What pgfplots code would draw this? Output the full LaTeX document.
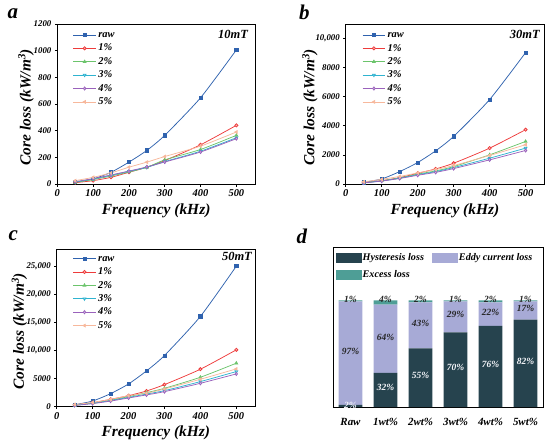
\documentclass[border=0pt]{standalone}
\usepackage{fontspec}
\setmainfont{Liberation Serif}
\usepackage{pgfplots}
\pgfplotsset{compat=1.18}
\usepackage{pgfplotstable}

\definecolor{craw}{HTML}{2F62AE}
\definecolor{cone}{HTML}{EE3B3B}
\definecolor{ctwo}{HTML}{6CC46C}
\definecolor{cthree}{HTML}{2FB3D0}
\definecolor{cfour}{HTML}{9A62BC}
\definecolor{cfive}{HTML}{F7B89C}
\definecolor{hyst}{HTML}{26434E}
\definecolor{eddy}{HTML}{A7AAD6}
\definecolor{exc}{HTML}{4E9E96}

\pgfplotstableread{
f raw p1 p2 p3 p4 p5
50 13 10 12 15 18 25
100 38 25 33 38 40 50
150 88 50 60 65 68 83
200 164 88 90 95 97 126
250 252 126 125 125 128 164
300 365 176 181 168 165 206
400 647 294 259 246 240 284
500 1006 440 365 347 340 390
}\dataA

\pgfplotstableread{
f raw p1 p2 p3 p4 p5
50 115 92 90 85 80 150
100 346 230 220 210 200 320
150 853 438 420 400 380 520
200 1475 737 680 640 600 760
250 2281 1037 900 850 800 1000
300 3272 1429 1198 1130 1060 1267
400 5806 2465 2005 1774 1660 1960
500 9032 3733 2926 2465 2304 2700
}\dataB

\pgfplotstableread{
f raw p1 p2 p3 p4 p5
50 357 300 280 260 220 380
100 1012 714 650 600 550 750
150 2321 1310 1150 1100 1000 1300
200 4048 1964 1800 1650 1550 1964
250 6369 2798 2500 2250 2100 2400
300 9107 3929 3274 2857 2679 3155
400 16070 6667 5238 4464 4167 4881
500 25000 10119 7738 6250 5833 6726
}\dataC

\pgfplotstableread{
i h e x
0 2 97 1
1 32 64 4
2 55 43 2
3 70 29 1
4 76 22 2
5 82 17 1
}\dataD

\pgfplotsset{
  lossaxis/.style={
    scale only axis, anchor=north west,
    xmin=0, xmax=552, xtick={0,100,...,500}, ymin=0,
    axis line style={line width=0.8pt},
    tick align=outside, tick pos=left,
    major tick length=2.5bp,
    every tick/.style={line width=0.7pt,black},
    scaled y ticks=false,
    /pgf/number format/assume math mode=true,
    /pgf/number format/1000 sep={,},
    /pgf/number format/min exponent for 1000 sep=4,
    xticklabel style={font=\fontsize{10.5}{12}\selectfont\bfseries\itshape},
    yticklabel style={font=\fontsize{8.8}{10}\selectfont\bfseries\itshape},
    xlabel={Frequency (kHz)},
    ylabel={Core loss (kW/m\textsuperscript{3})},
    label style={font=\fontsize{15.5}{17}\selectfont\bfseries\itshape},
    xlabel style={at={(axis description cs:0.5,-0.165)}, anchor=center},
    legend cell align=left,
    legend style={draw=none, fill=none, inner sep=0pt,
      font=\fontsize{10.5}{12}\selectfont\bfseries\itshape,
      nodes={inner xsep=2bp, inner ysep=2bp, text height=7.4bp, text depth=2bp}},
    legend image code/.code={\draw[mark repeat=2,mark phase=2,##1] plot coordinates {(0cm,0cm) (0.4cm,0cm) (0.8cm,0cm)};},
    every axis plot/.append style={line width=0.75pt, mark size=1.6pt, smooth, tension=0.4},
  },
  sraw/.style={craw, mark=square*, mark options={fill=craw}},
  sone/.style={cone, mark=*, mark options={fill=cone!35!white}},
  stwo/.style={ctwo, mark=triangle*, mark options={fill=ctwo}},
  sthree/.style={cthree, mark=triangle*, mark options={rotate=180, fill=cthree!35!white}},
  sfour/.style={cfour, mark=diamond*, mark options={fill=cfour!35!white}},
  sfive/.style={cfive, mark=triangle*, mark options={rotate=90, fill=cfive}},
}

\newcommand{\plotall}[1]{%
  \addplot[sraw] table[x=f,y=raw]{#1};
  \addplot[sone] table[x=f,y=p1]{#1};
  \addplot[stwo] table[x=f,y=p2]{#1};
  \addplot[sthree] table[x=f,y=p3]{#1};
  \addplot[sfour] table[x=f,y=p4]{#1};
  \addplot[sfive] table[x=f,y=p5]{#1};
  \legend{raw,1\%,2\%,3\%,4\%,5\%}%
}

\begin{document}
\begin{tikzpicture}
\path[use as bounding box] (0,0) rectangle (550bp,-446bp);

% panel a
\begin{axis}[lossaxis, at={(57.3bp,-24bp)}, width=197.7bp, height=160bp,
  ymax=1200, ytick={0,200,...,1200},
  ylabel style={at={(axis description cs:-0.158,0.48)}, anchor=center},
  legend style={at={(0.078,0.975)}, anchor=north west}]
\plotall{\dataA}
\node[anchor=north east, inner sep=0pt, font=\fontsize{12.5}{14}\selectfont\bfseries\itshape] at (rel axis cs:0.965,0.962) {10mT};
\end{axis}

% panel b
\begin{axis}[lossaxis, at={(345.7bp,-24bp)}, width=198.6bp, height=160bp,
  ymax=11000, ytick={0,2000,...,10000},
  ylabel style={at={(axis description cs:-0.18,0.48)}, anchor=center},
  legend style={at={(0.082,0.975)}, anchor=north west}]
\plotall{\dataB}
\node[anchor=north east, inner sep=0pt, font=\fontsize{12.5}{14}\selectfont\bfseries\itshape] at (rel axis cs:0.978,0.962) {30mT};
\end{axis}

% panel c
\begin{axis}[lossaxis, at={(56.7bp,-249.3bp)}, width=198.3bp, height=157.4bp,
  ymax=28000, ytick={0,5000,...,25000},
  ylabel style={at={(axis description cs:-0.188,0.48)}, anchor=center},
  legend style={at={(0.08,0.985)}, anchor=north west}]
\plotall{\dataC}
\node[anchor=north east, inner sep=0pt, font=\fontsize{12.5}{14}\selectfont\bfseries\itshape] at (rel axis cs:0.985,0.983) {50mT};
\end{axis}

% panel d
\begin{axis}[scale only axis, anchor=north west, at={(333bp,-247bp)}, width=210bp, height=160bp,
  ybar stacked, bar width=0.675,
  xmin=-0.5, xmax=5.5, ymin=0, ymax=150,
  axis line style={line width=0.8pt},
  xtick={0,...,5}, xticklabels={Raw,1wt\%,2wt\%,3wt\%,4wt\%,5wt\%},
  ytick=\empty, major tick length=0pt,
  xticklabel style={font=\fontsize{11}{12}\selectfont\bfseries\itshape, yshift=-8bp},
  legend columns=2, legend cell align=left,
  legend style={draw=none, fill=none, inner sep=0pt, at={(0.012,0.985)}, anchor=north west,
    font=\fontsize{10.2}{12}\selectfont\bfseries\itshape,
    nodes={inner xsep=1bp, inner ysep=3bp, text height=8bp, text depth=3bp},
    /tikz/every even column/.append style={column sep=7bp}},
  legend image code/.code={\draw[#1,draw=none] (0bp,-5bp) rectangle (26bp,5bp);},
  ]
\addplot[fill=hyst, draw=none] table[x=i,y=h]{\dataD};
\addplot[fill=eddy, draw=none] table[x=i,y=e]{\dataD};
\addplot[fill=exc, draw=none] table[x=i,y=x]{\dataD};
\legend{Hysteresis loss,Eddy current loss,Excess loss}
\coordinate (h0) at (axis cs:0,1.8);
\coordinate (h1) at (axis cs:1,18);
\coordinate (h2) at (axis cs:2,29.5);
\coordinate (h3) at (axis cs:3,37.5);
\coordinate (h4) at (axis cs:4,40);
\coordinate (h5) at (axis cs:5,43);
\coordinate (e0) at (axis cs:0,52);
\coordinate (e1) at (axis cs:1,65.5);
\coordinate (e2) at (axis cs:2,78.5);
\coordinate (e3) at (axis cs:3,86.5);
\coordinate (e4) at (axis cs:4,88.5);
\coordinate (e5) at (axis cs:5,92);
\coordinate (x0) at (axis cs:0,101);
\coordinate (x1) at (axis cs:1,101);
\coordinate (x2) at (axis cs:2,101);
\coordinate (x3) at (axis cs:3,101);
\coordinate (x4) at (axis cs:4,101);
\coordinate (x5) at (axis cs:5,101);
\end{axis}
\tikzset{pl/.style={font=\fontsize{9.5}{11}\selectfont\bfseries\itshape, inner sep=0pt}}
\node[pl, white!85!eddy] at (h0) {2\%};
\node[pl, white!90!eddy] at (h1) {32\%};
\node[pl, white!90!eddy] at (h2) {55\%};
\node[pl, white!90!eddy] at (h3) {70\%};
\node[pl, white!90!eddy] at (h4) {76\%};
\node[pl, white!90!eddy] at (h5) {82\%};
\node[pl, black!85] at (e0) {97\%};
\node[pl, black!85] at (e1) {64\%};
\node[pl, black!85] at (e2) {43\%};
\node[pl, black!85] at (e3) {29\%};
\node[pl, black!85] at (e4) {22\%};
\node[pl, black!85] at (e5) {17\%};
\node[pl, black!85] at (x0) {1\%};
\node[pl, black!85] at (x1) {4\%};
\node[pl, black!85] at (x2) {2\%};
\node[pl, black!85] at (x3) {1\%};
\node[pl, black!85] at (x4) {2\%};
\node[pl, black!85] at (x5) {1\%};

\tikzset{panel/.style={anchor=base west, inner sep=0pt, font=\fontsize{21}{24}\selectfont\bfseries\itshape}}
\node[panel] at (7.5bp,-18bp) {a};
\node[panel] at (299bp,-19bp) {b};
\node[panel] at (8.5bp,-240bp) {c};
\node[panel] at (296.5bp,-243bp) {d};
\end{tikzpicture}
\end{document}
